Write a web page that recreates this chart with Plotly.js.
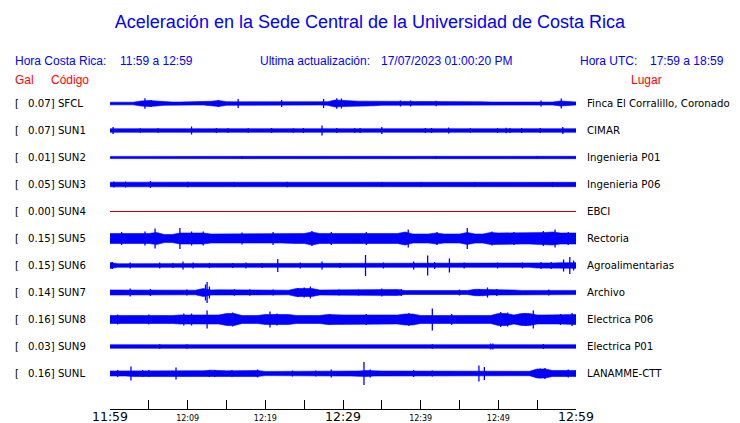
<!DOCTYPE html>
<html>
<head>
<meta charset="utf-8">
<script src="https://cdn.plot.ly/plotly-3.0.1.min.js"></script>
<style>html,body{margin:0;padding:0;background:#fff;}#chart{width:740px;height:423px;}</style>
</head>
<body>
<div id="chart"></div>
<script>
// ---------------- DATA ----------------
const stations = ['SFCL','SUN1','SUN2','SUN3','SUN4','SUN5','SUN6','SUN7','SUN8','SUN9','SUNL'];
const peakGal  = ['0.07','0.07','0.01','0.05','0.00','0.15','0.15','0.14','0.16','0.03','0.16'];
const places   = ['Finca El Corralillo, Coronado','CIMAR','Ingenieria P01','Ingenieria P06','EBCI',
                  'Rectoria','Agroalimentarias','Archivo','Electrica P06','Electrica P01','LANAMME-CTT'];
const tickLabels = ['11:59','','12:09','','12:19','','12:29','','12:39','','12:49','','12:59'];

// envelope half-amplitude (display px) sampled each minute, 0..60 min after 11:59
const envSFCL = [1.3,1.3,1.3,1.3,2.5,3,2.5,1.8,1.5,1.5,1.5,1.5,1.5,2.2,3,1.8,1.7,1.7,1.7,1.7,1.7,1.7,1.8,1.5,1.5,1.5,1.5,1.5,1.8,3.5,3,2.3,2.3,2.3,2.3,1.8,1.8,2,2,1.8,1.8,2.2,2.2,2.2,1.7,1.7,1.7,1.7,1.7,1.5,1.5,1.5,1.5,1.5,1.5,1.8,1.5,1.5,2.5,1.8,1.5];
const envSUN1 = [1.8,1.8,1.8,1.8,1.8,1.8,1.8,1.8,1.8,1.8,1.8,1.8,1.8,1.8,1.8,1.8,1.8,1.8,1.8,1.8,1.8,1.8,1.8,1.8,1.8,1.8,1.8,1.8,1.8,2,2,1.8,1.8,1.8,1.8,1.8,1.8,1.8,1.8,1.8,1.8,1.8,1.8,1.8,1.8,1.8,1.8,1.8,1.8,1.8,2.1,2.1,1.8,1.8,1.8,1.8,1.8,1.8,1.8,1.8,1.8];
const envSUN2 = [1.1,1.1,1.1,1.1,1.1,1.1,1.1,1.1,1.1,1.1,1.1,1.1,1.1,1.1,1.1,1.1,1.1,1.1,1.1,1.1,1.1,1.1,1.1,1.1,1.1,1.1,1.1,1.1,1.3,1.3,1.3,1.3,1.3,1.3,1.0,1.0,1.0,1.0,1.0,1.0,1.0,1.2,1.2,1.2,1.2,1.2,0.9,0.9,0.9,0.9,0.9,1.2,1.2,1.2,1.2,1.2,1.2,1.2,1.2,1.2,1.2];
const envSUN3 = [2.3,2.3,2.3,2.3,2.3,2.3,2,2,2,2,2,2,2,2,1.7,1.7,1.7,1.7,1.7,1.7,1.7,1.7,1.7,2,2,2,2,2,2,2,2,2,2,2,1.8,1.8,1.8,1.8,1.8,1.8,1.8,1.8,1.8,1.8,1.8,1.8,1.8,1.8,1.8,1.8,2.2,2.2,2.2,2.2,2.2,2.2,2.2,2.2,2.2,2.2,2.2];
const envSUN4 = [0,0,0,0,0,0,0,0,0,0,0,0,0,0,0,0,0,0,0,0,0,0,0,0,0,0,0,0,0,0,0,0,0,0,0,0,0,0,0,0,0,0,0,0,0,0,0,0,0,0,0,0,0,0,0,0,0,0,0,0,0];
const envSUN5 = [5,5,5,5,5,5,6,4,4,5.5,5.5,5.5,5.5,4.5,4.5,4.5,4.5,4.5,4.5,4.5,4.5,4.5,4.5,4.5,5,5,6.5,5,5,5,5,5,5,5,5,5,5,5,6.5,4.5,4.5,4.5,5.5,4.5,4.5,4.5,6,4.5,4.5,6,5.5,5.5,5.5,5.5,5.5,6,6,6.5,5.5,5.5,5.5];
const envSUN6 = [3,1.8,1.8,1.8,1.8,1.8,1.8,1.8,1.8,2.5,1.8,1.8,1.8,1.8,1.8,1.8,1.8,1.8,1.8,1.8,1.8,2.2,2.2,1.8,1.8,1.8,1.8,2.3,1.8,1.8,1.8,1.8,1.8,2.2,1.8,1.8,1.8,1.8,1.8,1.8,1.8,2.5,2.5,2.5,1.8,1.8,1.8,1.8,1.8,1.8,1.8,1.8,1.8,1.8,1.8,2.5,2.5,2.5,2.8,2.8,2.8];
const envSUN7 = [2.5,2.5,2.7,2.7,2.7,2.7,2.7,2.7,2.7,2.3,2.3,2.3,4,2.5,2.7,2.7,2.7,2.7,2.7,2.7,2.3,2.3,2.3,2.3,4,4,4,2.5,2.5,2.5,2.5,2.5,2.5,2.5,2.5,3,3,3,2,2,2,2,2,2,2,2,2,3.2,3.2,2.5,2.5,2.5,2.5,2.1,2.1,2.1,2.1,2.1,2.1,2.1,2.1];
const envSUN8 = [4,4,4,4,3.5,3.5,4,4,4,4.5,4.5,4.5,5,4.5,4.5,6,6,4,4,4,5,5,5,5,4,4,4,4,5,4.5,4.5,4.5,4.5,4.5,4.5,4.5,4.5,4.5,5.5,5.5,4,4,4,4,4,4,4,4,4,4,6,6,4.5,6,6,4.5,4.5,4.5,4.5,4.5,5];
const envSUN9 = [1.8,1.8,1.8,1.8,1.8,1.8,1.8,1.8,1.8,1.8,1.8,1.8,1.8,1.8,1.8,1.8,1.8,1.8,1.8,1.8,1.8,1.8,1.8,1.8,1.8,1.8,1.8,1.8,1.8,1.8,1.8,1.8,1.8,1.8,1.8,1.8,1.8,1.8,1.8,1.8,1.8,1.8,1.8,1.8,1.8,1.8,1.8,1.8,1.8,1.8,1.8,1.8,1.8,1.8,1.8,1.8,1.8,1.8,1.8,1.8,1.8];
const envSUNL = [2.5,2.5,2.5,3,2.7,2.7,2.7,3,3,3,2.8,2.8,2.8,3.3,2.7,2.7,2.7,3,3,3,2.1,2.1,2.1,2.1,2.1,2.1,2.1,2.1,2.1,2.5,2.5,2.5,2.5,3,2.5,2.5,2.5,2.5,2.5,2.5,2.5,2.2,2.2,2.2,2.2,2.2,2.2,2.8,2.8,2.2,2.2,2.2,2.2,2.2,2.2,4.5,4.5,3,3,3,3];

// isolated peaks: [minute, half-amplitude]
const pkSFCL = [[4.5,5.3],[5.3,3.5],[13.9,3.3],[16.5,4.5],[22.1,3.5],[27.5,4.5],[29.2,5.3],[29.8,5],[37.4,3],[38.7,3],[42,2.8],[55.5,3],[58.1,5]];
const pkSUN1 = [[0.4,3.5],[3.9,2.2],[6.2,2.2],[10.5,4],[13.7,2.5],[15.2,2.2],[17.8,2.2],[20.8,2.5],[23.6,2.2],[24.9,2.5],[27.3,5],[29.2,2.5],[31.5,2.2],[32.2,2.5],[35,3.5],[40.6,2.5],[41.4,2.5],[43.6,3],[46.4,2.2],[49.9,2.5],[51,2.7],[51.5,2.5],[53,2.5],[55.4,2.5],[58.3,3.5]];
const pkSUN2 = [[17,1.6],[42,1.6],[55,1.6]];
const pkSUN3 = [[0.5,3],[2,3],[5.2,3.5],[10,2.8],[16,2.6],[22.8,2.8],[35,2.6],[40,2.6],[47,2.6],[57,2.6]];
const pkSUN4 = [];
const pkSUN5 = [[1.5,6.5],[4.5,7],[5.8,10],[9,10.5],[10.5,7],[12,7],[17,6],[21,6.5],[26,7.5],[28.5,6.5],[33,6.5],[38.4,9],[42.1,6.5],[46,10.5],[49.2,7],[52,6.5],[55.8,7.5],[57.3,9],[59,6.5]];
const pkSUN6 = [[0.3,3.5],[2.6,3],[6.4,3],[8.1,2.6],[9.4,4],[10.7,3],[12.8,2.6],[15.8,2.6],[17.5,3],[19.6,2.6],[21.6,6.5],[24.5,3],[27.3,4],[29.6,2.6],[32.9,10.5],[35.2,3],[39.1,4],[40.9,10],[41.8,3.5],[43.7,7],[45.6,3],[49.9,3],[53.1,3],[55.5,3.5],[56.8,3.5],[58.4,6],[59.2,8.5],[59.7,5]];
const pkSUN7 = [[2.6,4],[5.2,3.5],[9.9,3],[12.3,8],[12.5,10.5],[12.8,6],[16,3.2],[18,3.2],[21,3],[24.2,4.5],[25,5],[25.8,6],[29.5,3],[32,3],[35,4],[37.5,3.5],[45,3],[47.5,3.5],[48.6,5],[49.8,3.5],[56.5,3]];
const pkSUN8 = [[1,5],[5,5],[9.5,6],[10.5,6],[12.5,9],[15.8,7],[20.6,8],[21.5,6],[28.3,5.5],[33,5.5],[38.5,6.5],[41.5,11],[44,5.5],[50.3,7.5],[51.2,7],[53.5,6.5],[54.5,9],[58,5.5],[59.5,6.5]];
const pkSUN9 = [[6.4,2.3],[9.9,2.3],[41.5,2.3],[49,3],[49.3,3],[55.8,2.5]];
const pkSUNL = [[1,3.5],[2.7,7],[4.2,3.5],[5,3.5],[8.5,6],[12.8,3.5],[13.5,3.5],[15.7,3.5],[19,4],[23.5,3],[26.5,3],[28.5,4],[32.7,11.5],[33.5,4],[39.1,3.5],[41.5,3],[47.5,8],[48.2,6.5],[55.4,5],[56,5.5],[59,4]];

const envelopes = [envSFCL,envSUN1,envSUN2,envSUN3,envSUN4,envSUN5,envSUN6,envSUN7,envSUN8,envSUN9,envSUNL];
const peaks     = [pkSFCL,pkSUN1,pkSUN2,pkSUN3,pkSUN4,pkSUN5,pkSUN6,pkSUN7,pkSUN8,pkSUN9,pkSUNL];

const headerLeft  = ['Hora Costa Rica:', '11:59 a 12:59'];
const headerMid   = ['Ultima actualización:', '17/07/2023 01:00:20 PM'];
const headerRight = ['Hora UTC:', '17:59 a 18:59'];

// ---------------- LAYOUT / STYLE ----------------
const BLUE = '#0000ff', RED = '#ff0000', FLAT = '#c00000';
const PLOT = {l:110, r:575.6, t:90, b:409};
const PW = PLOT.r - PLOT.l, PH = PLOT.b - PLOT.t;
const ROW0 = 13, ROWGAP = 27;
const rowCenter = i => -(ROW0 + ROWGAP*i);
const px = (x) => (x - PLOT.l)/PW;
const py = (y) => (PLOT.b - y)/PH;
const SPAN = 60;

const traces = [];
envelopes.forEach((env, i) => {
  const c = rowCenter(i);
  const step = SPAN/(env.length-1);
  const t = env.map((_, k) => k*step);
  const flat = Math.max(...env) === 0;
  if (flat) {
    traces.push({x:t, y:env.map(a => c + a), mode:'lines', line:{color:FLAT, width:1}, hoverinfo:'skip'});
    return;
  }
  const xs = t.concat(t.slice().reverse());
  const ys = env.map(a => c + a).concat(env.slice().reverse().map(a => c - a));
  traces.push({x:xs, y:ys, mode:'lines', fill:'toself', fillcolor:BLUE,
               line:{color:BLUE, width:0.6}, hoverinfo:'skip'});
  const sx = [], sy = [];
  peaks[i].forEach(([m, a]) => { sx.push(m, m, null); sy.push(c - a, c + a, null); });
  traces.push({x:sx, y:sy, mode:'lines', line:{color:BLUE, width:1.3}, hoverinfo:'skip', connectgaps:false});
});

const annotations = [];
function ann(text, x, y, color, size, family) {
  annotations.push({text, xref:'paper', yref:'paper', x:px(x), y:py(y), xanchor:'left', yanchor:'middle',
    showarrow:false, borderpad:0, font:{family, size, color}});
}
const SANS = 'Liberation Sans, Arial, sans-serif';
const DEJ = 'DejaVu Sans, sans-serif';
ann(headerLeft[0], 14, 61, BLUE, 12, SANS);
ann(headerLeft[1], 119, 61, BLUE, 12, SANS);
ann(headerMid[0], 259, 61, BLUE, 12, SANS);
ann(headerMid[1], 380, 61, BLUE, 12, SANS);
ann(headerRight[0], 579, 61, BLUE, 12, SANS);
ann(headerRight[1], 649, 61, BLUE, 12, SANS);
ann('Gal', 14, 80, RED, 12, SANS);
ann('Código', 50, 80, RED, 12, SANS);
ann('Lugar', 630, 80, RED, 12, SANS);

stations.forEach((s, i) => {
  const y = PLOT.t - rowCenter(i);
  ann('[', 14, y, '#000', 10.2, DEJ);
  ann(peakGal[i] + '] ' + s, 27, y, '#000', 10.2, DEJ);
  ann(places[i], 586, y, '#000', 10.2, DEJ);
});

const tickvals = tickLabels.map((_, k) => k*SPAN/(tickLabels.length-1));
const ticktext = tickLabels.map((s, k) => (k % 6 === 0) ? '<span style="font-size:12.5px">' + s + '</span>' : s);

const layout = {
  width:740, height:423,
  margin:{l:PLOT.l, r:740-PLOT.r, t:PLOT.t, b:423-PLOT.b, pad:0},
  paper_bgcolor:'#fff', plot_bgcolor:'#fff',
  showlegend:false,
  title:{text:'Aceleración en la Sede Central de la Universidad de Costa Rica',
         font:{family:SANS, size:18, color:BLUE}, x:0.5, xref:'container', xanchor:'center',
         y:1-22/423, yref:'container', yanchor:'middle'},
  xaxis:{range:[0, SPAN], showgrid:false, zeroline:false, showline:true, linecolor:'#000', linewidth:1,
         ticks:'inside', ticklen:9, tickwidth:1, tickcolor:'#000',
         tickmode:'array', tickvals, ticktext, ticklabelstandoff:1,
         tickfont:{family:DEJ, size:8, color:'#000'}, fixedrange:true},
  yaxis:{range:[-PH + 0.5, 0.5], visible:false, fixedrange:true},
  annotations
};

Plotly.newPlot('chart', traces, layout, {staticPlot:true, displayModeBar:false});
</script>
</body>
</html>
